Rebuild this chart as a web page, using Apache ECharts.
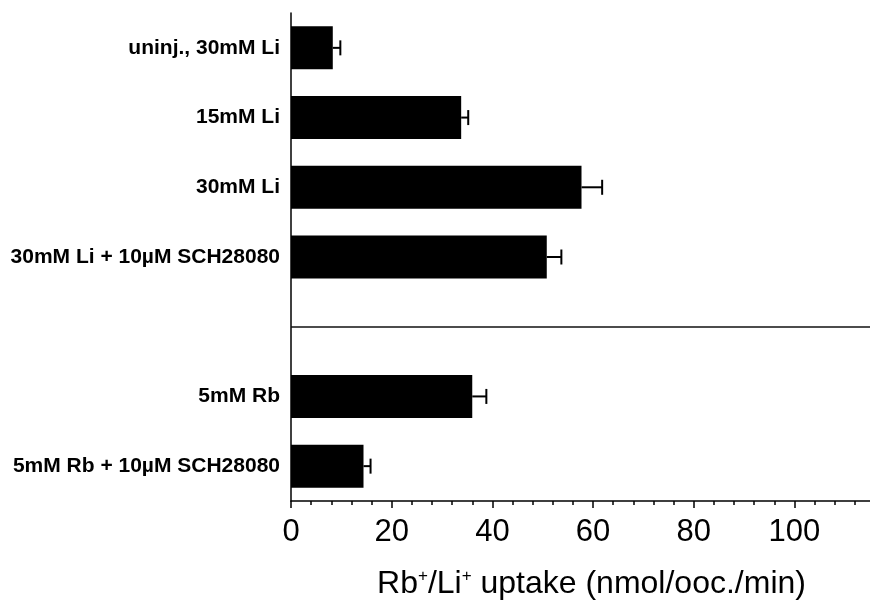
<!DOCTYPE html>
<html>
<head>
<meta charset="utf-8">
<script src="https://cdn.jsdelivr.net/npm/echarts@6/dist/echarts.min.js"></script>
<style>
  html, body { margin: 0; padding: 0; background: #fff; }
  #chart { width: 870px; height: 605px; }
</style>
</head>
<body>
<div id="chart"></div>
<script>
// categories, top to bottom ('' = empty slot between the two groups)
const categories = ['uninj., 30mM Li', '15mM Li', '30mM Li', '30mM Li + 10µM SCH28080', '', '5mM Rb', '5mM Rb + 10µM SCH28080']
// mean uptake
const uptake = [8.3, 33.8, 57.7, 50.8, null, 36.0, 14.4]
// error (upper side only)
const errors = [1.5, 1.4, 4.1, 2.9, null, 2.8, 1.4]
// axis ticks
const majorTicks = [0, 20, 40, 60, 80, 100]
const minorTicks = [4, 8, 12, 16, 24, 28, 32, 36, 44, 48, 52, 56, 64, 68, 72, 76, 84, 88, 92, 96, 104, 108, 112]

const FONT = "'Liberation Sans', Arial, Helvetica, sans-serif"

const errData = []
uptake.forEach(function (v, i) {
  if (v != null) errData.push([v, i, errors[i]])
})

const chartDom = document.getElementById('chart')
const myChart = echarts.init(chartDom)

const option = {
  backgroundColor: '#fff',
  animation: false,
  grid: { left: 291, right: 0, top: 13, bottom: 102, containLabel: false },
  xAxis: [{
    type: 'value',
    min: 0,
    max: 115,
    interval: 20,
    position: 'bottom',
    name: 'Rb{sup|+}/Li{sup|+} uptake (nmol/ooc./min)',
    nameLocation: 'middle',
    nameGap: 67,
    nameTextStyle: {
      fontFamily: FONT,
      fontSize: 32,
      color: '#000',
      padding: [0, 0, 0, 22],
      rich: {
        sup: { fontFamily: FONT, fontSize: 17, color: '#000', verticalAlign: 'top', padding: [0, 0, 12, 0] }
      }
    },
    axisLine: { show: true, lineStyle: { color: '#000', width: 1.5 } },
    axisTick: { show: true, length: 7, customValues: majorTicks, lineStyle: { color: '#000', width: 1.5 } },
    axisLabel: { customValues: majorTicks, fontFamily: FONT, fontSize: 31, color: '#000', margin: 16 },
    splitLine: { show: false }
  }, {
    // minor ticks only
    type: 'value',
    min: 0,
    max: 115,
    position: 'bottom',
    axisLine: { show: false },
    axisTick: { show: true, length: 4, customValues: minorTicks, lineStyle: { color: '#000', width: 1.5 } },
    axisLabel: { show: false },
    splitLine: { show: false }
  }],
  yAxis: {
    type: 'category',
    data: categories,
    inverse: true,
    axisLine: { show: true, lineStyle: { color: '#000', width: 1.5 } },
    axisTick: { show: false },
    axisLabel: { fontFamily: FONT, fontSize: 21, fontWeight: 'bold', color: '#000', margin: 11 },
    splitLine: { show: false }
  },
  series: [{
    name: 'uptake',
    type: 'bar',
    data: uptake,
    barWidth: 43,
    itemStyle: { color: '#000' },
    markLine: {
      silent: true,
      symbol: ['none', 'none'],
      label: { show: false },
      lineStyle: { color: '#111', width: 1.6, type: 'solid' },
      data: [{ yAxis: 4 }]
    }
  }, {
    name: 'error',
    type: 'custom',
    data: errData,
    renderItem: function (params, api) {
      const v = api.value(0)
      const idx = api.value(1)
      const e = api.value(2)
      const p0 = api.coord([v, idx])
      const p1 = api.coord([v + e, idx])
      const cap = 7.5
      const style = { stroke: '#000', lineWidth: 2 }
      return {
        type: 'group',
        children: [
          { type: 'line', shape: { x1: p0[0], y1: p0[1], x2: p1[0], y2: p1[1] }, style: style },
          { type: 'line', shape: { x1: p1[0], y1: p1[1] - cap, x2: p1[0], y2: p1[1] + cap }, style: style }
        ]
      }
    },
    z: 3
  }]
}

myChart.setOption(option)
</script>
</body>
</html>
